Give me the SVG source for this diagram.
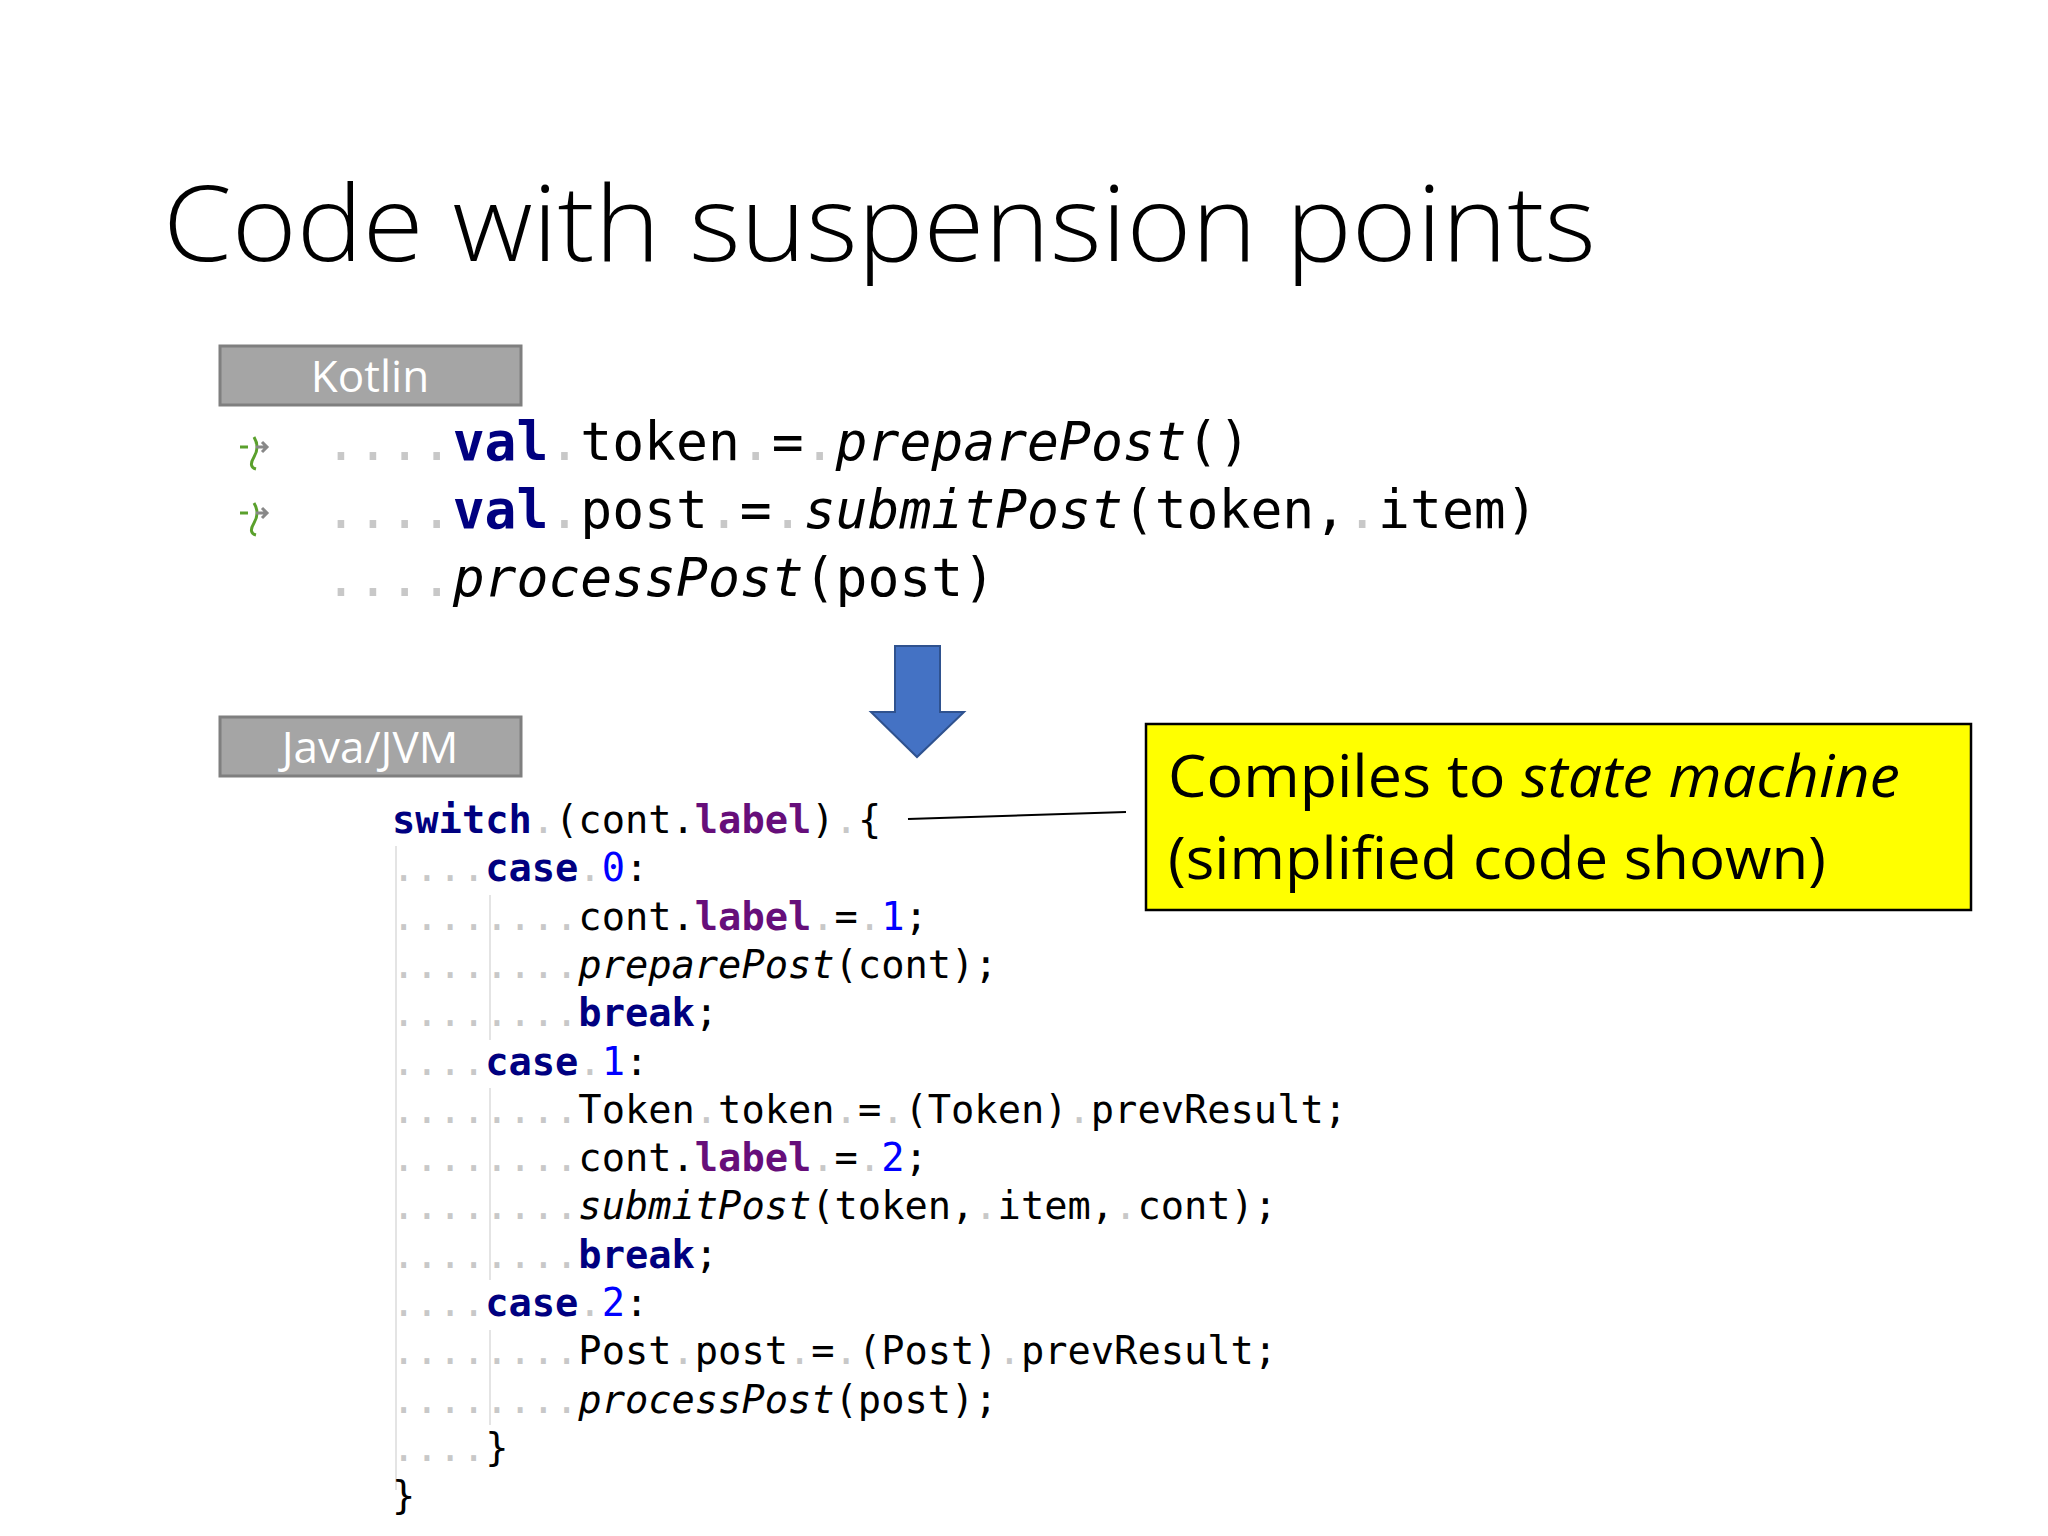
<svg xmlns="http://www.w3.org/2000/svg" width="2048" height="1536" viewBox="0 0 2048 1536">
<style>
.title{font-family:"Open Sans","Liberation Sans",sans-serif;font-weight:300;font-size:106px;fill:#000}
.tag rect{fill:#a5a5a5;stroke:#7f7f7f;stroke-width:3}
.tag text{font-family:"Open Sans","Liberation Sans",sans-serif;font-size:44px;fill:#fff;text-anchor:middle}
.k{font-family:"DejaVu Sans Mono",monospace;font-size:53px;fill:#000}
.j{font-family:"DejaVu Sans Mono",monospace;font-size:38.7px;fill:#000}
.kw{fill:#000080;font-weight:bold}
.lb{fill:#660e7a;font-weight:bold}
.n{fill:#0000ff}
.i{font-style:italic}
.d{fill:#c8c8c8}
.g{stroke:#e4e4e4;stroke-width:2}
.note{font-family:"Open Sans","Liberation Sans",sans-serif;font-size:58px;fill:#000}
</style>
<rect width="2048" height="1536" fill="#fff"/>
<text class="title" x="163" y="261" textLength="1433" lengthAdjust="spacingAndGlyphs">Code with suspension points</text>
<g id="kotlin-tag" class="tag"><rect x="220" y="346" width="301" height="59"/><text x="370" y="392">Kotlin</text></g>
<g id="java-tag" class="tag"><rect x="220" y="717" width="301" height="59"/><text x="370" y="763">Java/JVM</text></g>
<g id="kotlin-code">
<g fill="none" stroke-width="3"><path d="M240 447h8M254 437q6 10 0 20t2 12" stroke="#5aa02c"/><path d="M256 447h10M262 442l5 5-5 5" stroke="#888"/>
<path d="M240 513h8M254 503q6 10 0 20t2 12" stroke="#5aa02c"/><path d="M256 513h10M262 508l5 5-5 5" stroke="#888"/></g>
<text class="k" x="325" y="460" xml:space="preserve"><tspan class="d">....</tspan><tspan class="kw">val</tspan><tspan class="d">.</tspan>token<tspan class="d">.</tspan>=<tspan class="d">.</tspan><tspan class="i">preparePost</tspan>()</text>
<text class="k" x="325" y="528" xml:space="preserve"><tspan class="d">....</tspan><tspan class="kw">val</tspan><tspan class="d">.</tspan>post<tspan class="d">.</tspan>=<tspan class="d">.</tspan><tspan class="i">submitPost</tspan>(token,<tspan class="d">.</tspan>item)</text>
<text class="k" x="325" y="596" xml:space="preserve"><tspan class="d">....</tspan><tspan class="i">processPost</tspan>(post)</text>
</g>
<g id="arrow"><path d="M895 646h45v66h24l-47 45-46-45h24z" fill="#4472c4" stroke="#2f528f" stroke-width="2"/></g>
<g id="java-code">
<line class="g" x1="396" y1="846" x2="396" y2="1490"/>
<line class="g" x1="490" y1="895" x2="490" y2="1040"/>
<line class="g" x1="490" y1="1088" x2="490" y2="1280"/>
<line class="g" x1="490" y1="1330" x2="490" y2="1425"/>
<text class="j" x="392" y="833" xml:space="preserve"><tspan class="kw">switch</tspan><tspan class="d">.</tspan>(cont.<tspan class="lb">label</tspan>)<tspan class="d">.</tspan>{</text>
<text class="j" x="392" y="881" xml:space="preserve"><tspan class="d">....</tspan><tspan class="kw">case</tspan><tspan class="d">.</tspan><tspan class="n">0</tspan>:</text>
<text class="j" x="392" y="930" xml:space="preserve"><tspan class="d">........</tspan>cont.<tspan class="lb">label</tspan><tspan class="d">.</tspan>=<tspan class="d">.</tspan><tspan class="n">1</tspan>;</text>
<text class="j" x="392" y="978" xml:space="preserve"><tspan class="d">........</tspan><tspan class="i">preparePost</tspan>(cont);</text>
<text class="j" x="392" y="1026" xml:space="preserve"><tspan class="d">........</tspan><tspan class="kw">break</tspan>;</text>
<text class="j" x="392" y="1075" xml:space="preserve"><tspan class="d">....</tspan><tspan class="kw">case</tspan><tspan class="d">.</tspan><tspan class="n">1</tspan>:</text>
<text class="j" x="392" y="1123" xml:space="preserve"><tspan class="d">........</tspan>Token<tspan class="d">.</tspan>token<tspan class="d">.</tspan>=<tspan class="d">.</tspan>(Token)<tspan class="d">.</tspan>prevResult;</text>
<text class="j" x="392" y="1171" xml:space="preserve"><tspan class="d">........</tspan>cont.<tspan class="lb">label</tspan><tspan class="d">.</tspan>=<tspan class="d">.</tspan><tspan class="n">2</tspan>;</text>
<text class="j" x="392" y="1219" xml:space="preserve"><tspan class="d">........</tspan><tspan class="i">submitPost</tspan>(token,<tspan class="d">.</tspan>item,<tspan class="d">.</tspan>cont);</text>
<text class="j" x="392" y="1268" xml:space="preserve"><tspan class="d">........</tspan><tspan class="kw">break</tspan>;</text>
<text class="j" x="392" y="1316" xml:space="preserve"><tspan class="d">....</tspan><tspan class="kw">case</tspan><tspan class="d">.</tspan><tspan class="n">2</tspan>:</text>
<text class="j" x="392" y="1364" xml:space="preserve"><tspan class="d">........</tspan>Post<tspan class="d">.</tspan>post<tspan class="d">.</tspan>=<tspan class="d">.</tspan>(Post)<tspan class="d">.</tspan>prevResult;</text>
<text class="j" x="392" y="1413" xml:space="preserve"><tspan class="d">........</tspan><tspan class="i">processPost</tspan>(post);</text>
<text class="j" x="392" y="1461" xml:space="preserve"><tspan class="d">....</tspan>}</text>
<text class="j" x="392" y="1509" xml:space="preserve">}</text>
</g>
<g id="connectors"><line x1="908" y1="819" x2="1126" y2="812" stroke="#000" stroke-width="2"/></g>
<g id="note"><rect x="1146" y="724" width="825" height="186" fill="#ffff00" stroke="#000" stroke-width="2.5"/>
<text class="note" x="1168" y="797" textLength="732" lengthAdjust="spacingAndGlyphs">Compiles to <tspan font-style="italic">state machine</tspan></text>
<text class="note" x="1168" y="879" textLength="658" lengthAdjust="spacingAndGlyphs">(simplified code shown)</text></g>
</svg>
